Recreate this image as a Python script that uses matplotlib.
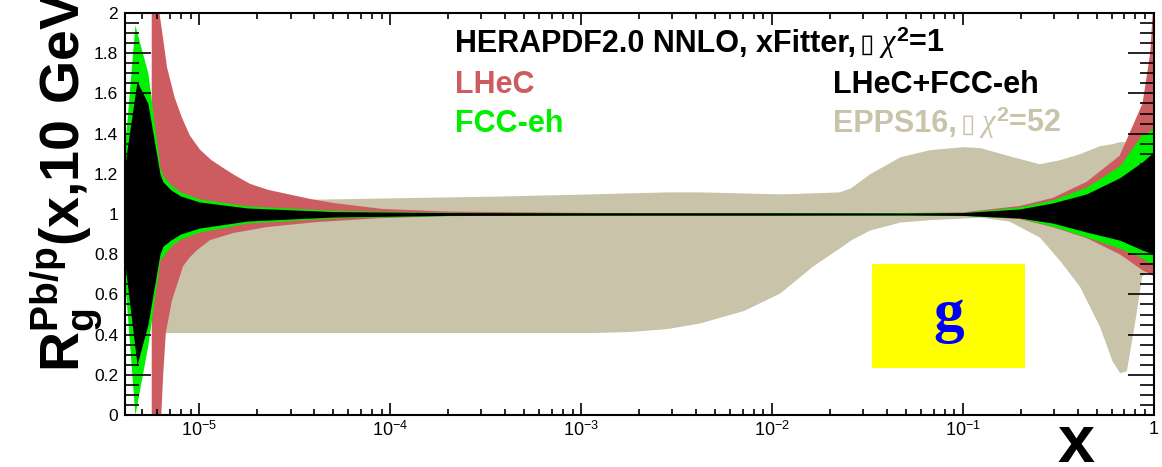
import numpy as np
import matplotlib
matplotlib.use("Agg")
import matplotlib.pyplot as plt
from matplotlib.patches import Rectangle
from matplotlib.ticker import FixedLocator, MultipleLocator

plt.rcParams["font.family"] = ["Liberation Sans", "DejaVu Sans"]
plt.rcParams["mathtext.fontset"] = "custom"
plt.rcParams["mathtext.rm"] = "Liberation Sans"
plt.rcParams["mathtext.bf"] = "Liberation Sans:bold"
plt.rcParams["mathtext.it"] = "Liberation Serif:italic"

# EPPS16 band (log10 x, lower, upper)
epps_logx = [-5.24, -4.32, -3.4, -2.95, -2.75, -2.55, -2.38, -2.15, -1.96, -1.79, -1.65, -1.59,
             -1.49, -1.33, -1.175, -1.0, -0.91, -0.76, -0.60, -0.495, -0.39, -0.285, -0.22,
             -0.18, -0.145, -0.10, -0.065, 0.0]
epps_lo = [0.41, 0.41, 0.41, 0.41, 0.415, 0.43, 0.458, 0.52, 0.607, 0.74, 0.83, 0.87,
           0.92, 0.96, 0.972, 0.98, 0.985, 0.965, 0.885, 0.77, 0.64, 0.44, 0.27,
           0.21, 0.22, 0.47, 0.69, 0.75]
epps_hi = [1.06, 1.075, 1.09, 1.10, 1.105, 1.11, 1.11, 1.105, 1.10, 1.105, 1.11, 1.13,
           1.20, 1.285, 1.32, 1.335, 1.33, 1.29, 1.25, 1.27, 1.30, 1.34, 1.35,
           1.36, 1.36, 1.40, 1.5, 1.8]

# LHeC band: upper and lower edges read separately
lhec_up_logx = [-5.25, -5.217, -5.19, -5.17, -5.13, -5.092, -5.05, -4.997, -4.94, -4.877,
                -4.81, -4.735, -4.64, -4.542, -4.42, -4.301, -4.04, -3.688, -2.9, -2.0,
                -1.3, -1.0, -0.704, -0.531, -0.353, -0.18, -0.06, -0.02, 0.0]
lhec_up = [2.6, 2.05, 1.87, 1.73, 1.58, 1.48, 1.39, 1.32, 1.27, 1.23,
           1.19, 1.15, 1.12, 1.10, 1.075, 1.055, 1.025, 1.012, 1.005, 1.004,
           1.005, 1.008, 1.04, 1.08, 1.16, 1.29, 1.55, 1.8, 2.1]
lhec_lo_logx = [-5.25, -5.2, -5.19, -5.176, -5.144, -5.086, -5.05, -5.013, -4.945, -4.825,
                -4.647, -4.385, -4.04, -3.688, -2.9, -2.0, -1.3, -1.0, -0.704, -0.531,
                -0.353, -0.18, -0.06, -0.02, 0.0]
lhec_lo = [-0.5, 0.0, 0.2, 0.41, 0.57, 0.74, 0.785, 0.82, 0.87, 0.905,
           0.935, 0.96, 0.98, 0.99, 0.995, 0.996, 0.995, 0.992, 0.975, 0.935,
           0.88, 0.80, 0.72, 0.70, 0.69]

# FCC-eh band
fcc_logx = [-5.39, -5.338, -5.27, -5.207, -5.191, -5.15, -5.10, -5.0, -4.75, -4.3, -3.7,
            -3.0, -2.0, -1.3, -1.0, -0.704, -0.531, -0.353, -0.18, -0.06, -0.03, 0.0]
fcc_lo = [0.65, 0.0, 0.35, 0.77, 0.79, 0.84, 0.875, 0.91, 0.955, 0.98, 0.992,
          0.995, 0.995, 0.994, 0.992, 0.98, 0.94, 0.885, 0.83, 0.78, 0.76, 0.76]
fcc_hi = [1.35, 1.94, 1.70, 1.23, 1.19, 1.145, 1.11, 1.075, 1.04, 1.018, 1.008,
          1.005, 1.005, 1.006, 1.008, 1.035, 1.07, 1.135, 1.24, 1.40, 1.41, 1.43]

# LHeC+FCC-eh band
comb_logx = [-5.39, -5.327, -5.27, -5.207, -5.191, -5.15, -5.10, -5.0, -4.75, -4.3, -3.7,
             -3.0, -2.0, -1.3, -1.0, -0.704, -0.531, -0.353, -0.18, -0.06, 0.0]
comb_lo = [0.75, 0.25, 0.45, 0.80, 0.84, 0.87, 0.90, 0.93, 0.965, 0.985, 0.993,
           0.994, 0.994, 0.995, 0.993, 0.98, 0.955, 0.91, 0.87, 0.82, 0.80]
comb_hi = [1.25, 1.66, 1.55, 1.20, 1.16, 1.12, 1.09, 1.06, 1.03, 1.012, 1.007,
           1.006, 1.006, 1.005, 1.007, 1.025, 1.055, 1.10, 1.18, 1.26, 1.31]

yticks = [0, 0.2, 0.4, 0.6, 0.8, 1.0, 1.2, 1.4, 1.6, 1.8, 2.0]
ytick_labels = ["0", "0.2", "0.4", "0.6", "0.8", "1", "1.2", "1.4", "1.6", "1.8", "2"]
xticks = [1e-5, 1e-4, 1e-3, 1e-2, 1e-1, 1]
xtick_labels = [r"$10^{-5}$", r"$10^{-4}$", r"$10^{-3}$", r"$10^{-2}$", r"$10^{-1}$", "1"]

c_lhec = "#cd5c60"
c_fcc = "#00f000"
c_epps = "#c9c3a9"


def legend_line(x, y, head, tail, color):
    # head text, then the box glyph, then chi^2 part, chained left to right
    t1 = fig.text(x, y, head, fontsize=22, fontweight="bold", color=color,
                  va="baseline", ha="left")
    t2 = fig.text(0, 0, "\u25af", fontsize=19, color=color, family="DejaVu Sans",
                  va="baseline", ha="left")
    t3 = fig.text(0, 0, tail, fontsize=22, fontweight="bold", color=color,
                  va="baseline", ha="left")
    fig.canvas.draw()
    r = fig.canvas.get_renderer()
    inv = fig.transFigure.inverted()
    b1 = t1.get_window_extent(r)
    t2.set_position((inv.transform((b1.x1 + 4, 0))[0], y))
    b2 = t2.get_window_extent(r)
    t3.set_position((inv.transform((b2.x1 + 4, 0))[0], y))


fig = plt.figure(figsize=(11.62, 4.67), dpi=100)
ax = fig.add_axes([125 / 1162, 52 / 467, 1029 / 1162, 402 / 467])

ax.fill_between(10 ** np.array(epps_logx), epps_lo, epps_hi, color=c_epps, lw=0)
ax.fill(np.concatenate([10 ** np.array(lhec_up_logx), 10 ** np.array(lhec_lo_logx)[::-1]]),
        np.concatenate([lhec_up, lhec_lo[::-1]]), color=c_lhec, lw=0)
ax.fill_between(10 ** np.array(fcc_logx), fcc_lo, fcc_hi, color=c_fcc, lw=0)
ax.fill_between(10 ** np.array(comb_logx), comb_lo, comb_hi, color="black", lw=0)

ax.set_xscale("log")
ax.set_xlim(10 ** -5.39, 1)
ax.set_ylim(0, 2)

ax.xaxis.set_major_locator(FixedLocator(xticks))
ax.set_xticklabels(xtick_labels, fontsize=13)
ax.set_yticks(yticks)
ax.set_yticklabels(ytick_labels, fontsize=12.5)
ax.yaxis.set_minor_locator(MultipleLocator(0.05))
ax.tick_params(which="both", direction="in", top=True, right=True, width=1.2)
ax.tick_params(axis="x", which="major", length=8.5, pad=4)
ax.tick_params(axis="x", which="minor", length=4.3)
ax.tick_params(axis="y", which="major", length=19, pad=5)
ax.tick_params(axis="y", which="minor", length=10)
for s in ax.spines.values():
    s.set_linewidth(1.5)

# yellow label box
ax.add_patch(Rectangle((0.726, 0.117), 0.149, 0.259, transform=ax.transAxes,
                       facecolor="#ffff00", edgecolor="none", zorder=5))
ax.text(0.8005, 0.246, "g", transform=ax.transAxes, ha="center", va="center",
        fontsize=44, fontweight="bold", family="Liberation Serif", color="#0000ff", zorder=6)

# legend texts
legend_line(455 / 1162, 1 - 52 / 467, "HERAPDF2.0 NNLO, xFitter,",
            r"$\chi^{\mathbf{2}}$=1", "black")
fig.text(455 / 1162, 1 - 93 / 467, "LHeC", fontsize=22, fontweight="bold",
         va="baseline", color=c_lhec)
fig.text(455 / 1162, 1 - 132 / 467, "FCC-eh", fontsize=22, fontweight="bold",
         va="baseline", color=c_fcc)
fig.text(833 / 1162, 1 - 93 / 467, "LHeC+FCC-eh", fontsize=22, fontweight="bold",
         va="baseline", color="black")
legend_line(833 / 1162, 1 - 132 / 467, "EPPS16,", r"$\chi^{\mathbf{2}}$=52", c_epps)

# axis titles
fig.text(80 / 1162, 1 - 372 / 467, r"$\mathbf{R_{g}^{Pb/p}}$(x,10 GeV$^{\mathbf{2}}$)",
         rotation=90, rotation_mode="anchor", fontsize=40, fontweight="bold",
         ha="left", va="baseline")
fig.text(1076 / 1162, 1 - 462 / 467, "x", fontsize=48, fontweight="bold",
         ha="center", va="baseline")

fig.savefig("out.png", dpi=100)
